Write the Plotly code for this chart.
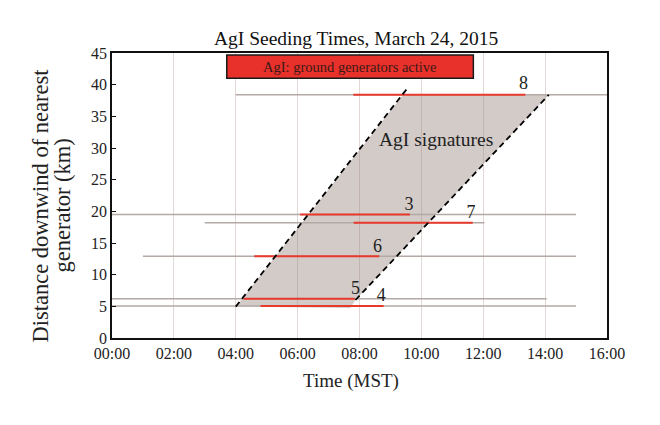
import plotly.graph_objects as go

# ---- data (hours MST, km) ----
flight_ids = ["3", "7", "6", "5", "4", "8"]
flight_dist = [19.5, 18.2, 12.9, 6.2, 5.05, 38.4]
gray_start = [0.0, 3.0, 1.0, 0.0, 0.0, 4.0]
gray_end = [15.0, 12.04, 15.0, 14.05, 15.0, 16.0]
red_start = [6.08, 7.81, 4.6, 4.25, 4.8, 7.8]
red_end = [9.63, 11.66, 8.64, 7.85, 8.78, 13.36]
label_x = [9.6, 11.6, 8.58, 7.87, 8.7, 13.3]
label_y = [21.0, 19.7, 14.3, 7.7, 6.5, 40.0]

# AgI signature envelope
left_edge_t = [4.0, 9.56]
left_edge_d = [4.95, 39.5]
right_edge_t = [7.87, 14.12]
right_edge_d = [6.0, 38.4]
shade_t = [4.0, 7.7, 7.87, 14.12, 9.41, 4.0]
shade_d = [4.95, 4.75, 6.0, 38.4, 38.4, 4.95]

gen_start, gen_end = 3.71, 11.68

x_ticks = [0, 2, 4, 6, 8, 10, 12, 14, 16]
x_tick_text = ["00:00", "02:00", "04:00", "06:00", "08:00", "10:00", "12:00", "14:00", "16:00"]
y_ticks = [0, 5, 10, 15, 20, 25, 30, 35, 40, 45]

FONT = "Liberation Serif"
GRAY = "#b3a9a5"
RED = "#e8392d"

fig = go.Figure()

# shaded envelope
fig.add_trace(go.Scatter(x=shade_t, y=shade_d, mode="lines", fill="toself",
                         fillcolor="rgba(150,132,125,0.42)", line=dict(width=0),
                         hoverinfo="skip", showlegend=False))

# gray flight tracks
for i in range(len(flight_ids)):
    fig.add_trace(go.Scatter(x=[gray_start[i], gray_end[i]], y=[flight_dist[i], flight_dist[i]],
                             mode="lines", line=dict(color=GRAY, width=1.6),
                             showlegend=False, hoverinfo="skip"))
# red seeding segments
for i in range(len(flight_ids)):
    fig.add_trace(go.Scatter(x=[red_start[i], red_end[i]], y=[flight_dist[i], flight_dist[i]],
                             mode="lines", line=dict(color=RED, width=2),
                             showlegend=False, hoverinfo="skip"))

# dashed envelope edges
fig.add_trace(go.Scatter(x=left_edge_t, y=left_edge_d, mode="lines",
                         line=dict(color="black", width=1.8, dash="6px,4px"),
                         showlegend=False, hoverinfo="skip"))
fig.add_trace(go.Scatter(x=right_edge_t, y=right_edge_d, mode="lines",
                         line=dict(color="black", width=1.8, dash="6px,4px"),
                         showlegend=False, hoverinfo="skip"))

# flight labels
fig.add_trace(go.Scatter(x=label_x, y=label_y, mode="text", text=flight_ids,
                         textfont=dict(family=FONT, size=18, color="#222"),
                         showlegend=False, hoverinfo="skip"))

# generator activity box
fig.add_shape(type="rect", x0=gen_start, x1=gen_end, y0=41.0, y1=44.7,
              xref="x", yref="y", fillcolor="#e8312a",
              line=dict(color="#1a1a1a", width=1.5), layer="above")
fig.add_annotation(x=(gen_start + gen_end) / 2, y=42.85, xref="x", yref="y",
                   text="AgI: ground generators active", showarrow=False,
                   font=dict(family=FONT, size=14.5, color="#3a1a18"))

fig.add_annotation(x=10.48, y=31.3, xref="x", yref="y", text="AgI signatures",
                   showarrow=False, font=dict(family=FONT, size=19.5, color="#222"))

# axis titles as annotations (tighter line spacing than a <br> title)
fig.add_annotation(x=0, y=0.5, xref="paper", yref="paper", xanchor="center", yanchor="middle",
                   xshift=-72, yshift=-10, textangle=-90, showarrow=False,
                   text="Distance downwind of nearest",
                   font=dict(family=FONT, size=22.5, color="#222"))
fig.add_annotation(x=0, y=0.5, xref="paper", yref="paper", xanchor="center", yanchor="middle",
                   xshift=-50, yshift=-10, textangle=-90, showarrow=False,
                   text="generator (km)",
                   font=dict(family=FONT, size=22.5, color="#222"))
fig.add_annotation(x=0.483, y=0, xref="paper", yref="paper", xanchor="center", yanchor="middle",
                   yshift=-43, showarrow=False, text="Time (MST)",
                   font=dict(family=FONT, size=19, color="#222"))

# page body has an 8px default margin, so the figure is made 8px smaller
fig.update_layout(
    width=652, height=417,
    margin=dict(l=104, r=53, t=45, b=87),
    paper_bgcolor="white", plot_bgcolor="white",
    font=dict(family=FONT, size=16, color="#222"),
    title=dict(text="AgI Seeding Times, March 24, 2015", x=0.534, xanchor="center",
               y=0.928, yanchor="middle", font=dict(family=FONT, size=19.5, color="#111")),
    showlegend=False,
)
fig.update_xaxes(range=[0, 16], tickvals=x_ticks, ticktext=x_tick_text,
                 showgrid=True, gridcolor="#e2d9d6", gridwidth=1.2,
                 showline=True, linecolor="#111", linewidth=1.6, mirror=True,
                 ticks="", zeroline=False,
                 tickfont=dict(family=FONT, size=16))
fig.update_yaxes(range=[0, 45], tickvals=y_ticks,
                 showgrid=False, zeroline=False,
                 showline=True, linecolor="#111", linewidth=1.6, mirror=True,
                 ticks="inside", ticklen=4, tickcolor="#111",
                 tickfont=dict(family=FONT, size=16))

fig.write_html("out.html")
